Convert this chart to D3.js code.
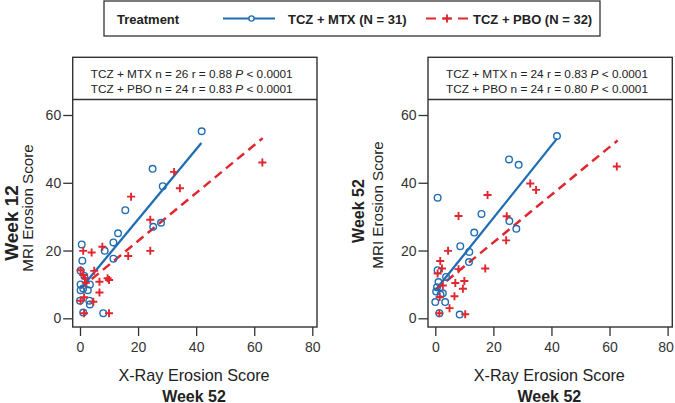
<!DOCTYPE html>
<html><head><meta charset="utf-8">
<script src="https://cdn.jsdelivr.net/npm/d3@7"></script>
<style>body{margin:0;background:#fff} svg{display:block;font-family:"Liberation Sans",Arial,sans-serif}</style>
</head><body><svg id="c" width="675" height="403"></svg>
<script>
// ---------- data ----------
const xTicks = [0, 20, 40, 60, 80];
const yTicks = [0, 20, 40, 60];
const legendTitle = "Treatment";
const seriesNames = ["TCZ + MTX (N = 31)", "TCZ + PBO (N = 32)"];
const panelTitles = ["Week 12", "Week 52"];
const xTitle = "X-Ray Erosion Score";
const xSubTitle = "Week 52";
const yTitle = "MRI Erosion Score";

// stats: [label, n, r]
const statsW12 = [["TCZ + MTX", 26, "0.88"], ["TCZ + PBO", 24, "0.83"]];
const statsW52 = [["TCZ + MTX", 24, "0.83"], ["TCZ + PBO", 24, "0.80"]];

// points [x-ray, mri]
const w12Mtx = [[41.9,55.2],[25.0,44.1],[28.5,39.0],[15.6,31.9],[13.1,25.1],[11.5,22.4],[8.5,19.9],[11.5,17.6],
  [25.2,27.0],[27.9,28.2],[0.6,21.8],[0.8,17.0],[0.2,14.0],[0.2,10.0],[3.4,10.0],[1.1,8.8],[2.7,8.3],[0.2,8.3],
  [0.0,5.2],[3.2,5.2],[3.4,4.1],[1.1,1.7],[8.0,1.5],[1.5,12.5]];
const w12Pbo = [[62.8,46.0],[32.4,43.2],[34.4,38.4],[17.6,35.9],[24.2,29.1],[24.2,19.9],[16.6,18.4],[7.7,21.1],
  [4.0,19.4],[1.1,19.9],[4.9,14.0],[1.1,12.8],[1.7,11.8],[6.7,10.8],[9.5,11.8],[10.0,11.3],[6.7,7.6],[1.4,6.2],
  [0.2,5.2],[4.6,4.9],[1.4,1.5],[10.0,1.5],[0.2,14.2],[2.0,10.5]];
const w52Mtx = [[41.9,53.8],[25.4,46.9],[28.7,45.3],[0.8,35.6],[15.9,30.8],[13.4,25.3],[8.6,21.3],[11.7,19.6],
  [11.6,16.6],[25.5,28.7],[27.9,26.4],[0.8,14.2],[1.1,10.7],[3.7,12.2],[0.6,9.2],[0.3,7.9],[2.6,7.4],[1.8,7.0],
  [0.0,4.8],[3.4,4.8],[1.4,1.5],[8.4,1.1]];
const w52Pbo = [[62.5,44.8],[32.7,39.8],[34.7,37.9],[18.0,36.4],[8.0,30.2],[24.6,30.1],[24.4,23.0],[17.2,14.7],
  [4.4,19.9],[1.7,16.9],[2.3,14.7],[0.8,13.2],[8.0,14.5],[6.9,10.4],[10.0,11.0],[9.5,8.7],[2.6,9.7],[1.5,6.3],
  [6.6,6.5],[4.9,3.0],[1.4,1.5],[10.3,1.2]];

// fit lines: [xStart, xEnd, slope, intercept]
const fitW12Mtx = [1.0, 41.8, 1.034, 8.5];
const fitW12Pbo = [0.2, 62.9, 0.707, 8.7];
const fitW52Mtx = [0.6, 41.9, 1.07, 8.2];
const fitW52Pbo = [0.0, 62.8, 0.704, 8.3];

// ---------- drawing ----------
const BLUE = "#1f6db3", RED = "#e0262f", INK = "#333";
const svg = d3.select("#c");

function plus(sel, s) {
  sel.append("path").attr("d", `M${-s},0H${s}M0,${-s}V${s}`)
    .attr("stroke", RED).attr("stroke-width", 1.9).attr("fill", "none");
}

// legend
const lg = svg.append("g");
lg.append("rect").attr("x", 104).attr("y", 1).attr("width", 496).attr("height", 35)
  .attr("fill", "#fff").attr("stroke", INK).attr("stroke-width", 1.3);
lg.append("text").attr("x", 117).attr("y", 23.5).attr("font-size", 13).attr("font-weight", "bold")
  .attr("fill", "#222").text(legendTitle);
lg.append("line").attr("x1", 223).attr("x2", 275).attr("y1", 18.5).attr("y2", 18.5)
  .attr("stroke", BLUE).attr("stroke-width", 2);
lg.append("circle").attr("cx", 251.5).attr("cy", 18.5).attr("r", 2.6)
  .attr("fill", "#fff").attr("stroke", BLUE).attr("stroke-width", 1.4);
lg.append("text").attr("x", 288).attr("y", 23.5).attr("font-size", 13).attr("font-weight", "bold")
  .attr("fill", "#222").text(seriesNames[0]);
lg.append("line").attr("x1", 426).attr("x2", 468).attr("y1", 18.5).attr("y2", 18.5)
  .attr("stroke", RED).attr("stroke-width", 2.2).attr("stroke-dasharray", "10,6");
lg.append("g").attr("transform", "translate(447,18.5)").call(plus, 4);
lg.append("text").attr("x", 473).attr("y", 23.5).attr("font-size", 13).attr("font-weight", "bold")
  .attr("fill", "#222").text(seriesNames[1]);

const panels = [
  {dx: 0, title: panelTitles[0], tSize: 19, tX: 17.5, tY: 223, yX: 33, yY: 208,
   stats: statsW12, mtx: w12Mtx, pbo: w12Pbo, fM: fitW12Mtx, fP: fitW12Pbo},
  {dx: 355.3, title: panelTitles[1], tSize: 16, tX: 8.5, tY: 211, yX: 28, yY: 205,
   stats: statsW52, mtx: w52Mtx, pbo: w52Pbo, fM: fitW52Mtx, fP: fitW52Pbo}
];

const L = 72.7, R = 317, T = 57.3, H = 99.5, B = 327;
const x = d3.scaleLinear().domain([0, 80]).range([80, 312.3]);
const y = d3.scaleLinear().domain([0, 60]).range([318.3, 115]);

panels.forEach(p => {
  const g = svg.append("g").attr("transform", `translate(${p.dx},0)`);

  // header box & frame
  g.append("rect").attr("x", L).attr("y", T).attr("width", R - L).attr("height", B - T)
    .attr("fill", "#fff").attr("stroke", INK).attr("stroke-width", 1.4);
  g.append("line").attr("x1", L).attr("x2", R).attr("y1", H).attr("y2", H)
    .attr("stroke", INK).attr("stroke-width", 1.4);

  p.stats.forEach((s, i) => {
    const t = g.append("text").attr("x", L + 18).attr("y", 78.3 + i * 14.2)
      .attr("font-size", 11.8).attr("fill", "#222");
    t.append("tspan").text(`${s[0]} n = ${s[1]} r = ${s[2]} `);
    t.append("tspan").attr("font-style", "italic").text("P");
    t.append("tspan").text(" < 0.0001");
  });

  // axes
  const ya = g.append("g").attr("transform", `translate(${L},0)`)
    .call(d3.axisLeft(y).tickValues(yTicks).tickSize(9.5).tickPadding(2));
  const xa = g.append("g").attr("transform", `translate(0,${B})`)
    .call(d3.axisBottom(x).tickValues(xTicks).tickSize(9).tickPadding(6));
  [ya, xa].forEach(a => {
    a.select(".domain").remove();
    a.selectAll("line").attr("stroke", INK).attr("stroke-width", 1.3);
    a.selectAll("text").attr("font-size", 14).attr("fill", "#333")
      .attr("font-family", '"Liberation Sans",Arial,sans-serif');
  });
  // keep tick labels inside the page
  xa.selectAll("text").each(function () {
    const b = this.getBoundingClientRect();
    if (b.right > 674) d3.select(this).attr("dx", -(b.right - 674));
  });

  // axis titles
  g.append("text").attr("x", 194).attr("y", 381).attr("text-anchor", "middle")
    .attr("font-size", 16.2).attr("fill", "#222").text(xTitle);
  g.append("text").attr("x", 194).attr("y", 401.5).attr("text-anchor", "middle")
    .attr("font-size", 16).attr("font-weight", "bold").attr("fill", "#222").text(xSubTitle);
  g.append("text").attr("transform", `translate(${p.yX},${p.yY}) rotate(-90)`).attr("text-anchor", "middle")
    .attr("font-size", 15.2).attr("fill", "#222").text(yTitle);
  g.append("text").attr("transform", `translate(${p.tX},${p.tY}) rotate(-90)`)
    .attr("text-anchor", "middle").attr("font-size", p.tSize).attr("font-weight", "bold")
    .attr("fill", "#222").text(p.title);

  // fit lines
  const fit = f => [[f[0], f[2] * f[0] + f[3]], [f[1], f[2] * f[1] + f[3]]];
  const line = d3.line().x(d => x(d[0])).y(d => y(d[1]));
  g.append("path").attr("d", line(fit(p.fM))).attr("stroke", BLUE).attr("stroke-width", 2.3).attr("fill", "none");
  g.append("path").attr("d", line(fit(p.fP))).attr("stroke", RED).attr("stroke-width", 2.5)
    .attr("stroke-dasharray", "9,5.5").attr("fill", "none");

  // points
  g.append("g").selectAll("circle").data(p.mtx).join("circle")
    .attr("cx", d => x(d[0])).attr("cy", d => y(d[1])).attr("r", 3.3)
    .attr("fill", "none").attr("stroke", BLUE).attr("stroke-width", 1.4);
  g.append("g").selectAll("g").data(p.pbo).join("g")
    .attr("transform", d => `translate(${x(d[0])},${y(d[1])})`).each(function () { plus(d3.select(this), 4); });
});
</script></body></html>
